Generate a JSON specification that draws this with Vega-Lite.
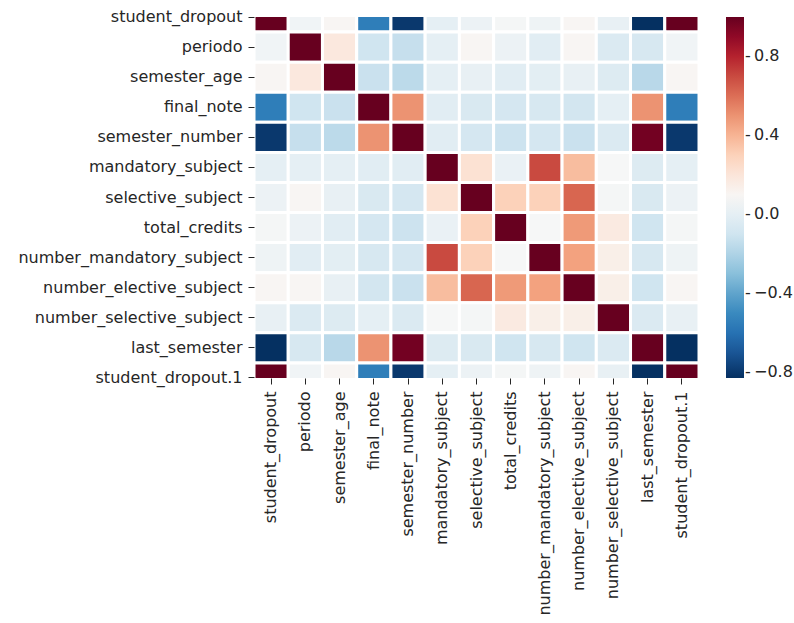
{
  "$schema": "https://vega.github.io/schema/vega-lite/v6.json",
  "width": 445,
  "height": 361,
  "autosize": {"type": "none"},
  "padding": {"left": 254, "top": 17, "right": 95, "bottom": 245},
  "background": "white",
  "config": {"view": {"stroke": null}, "font": "DejaVu Sans"},
  "data": {"values": [
    {"variable": "student_dropout", "student_dropout": 1, "periodo": 0.05, "semester_age": 0.1, "final_note": -0.55, "semester_number": -0.8, "mandatory_subject": 0.0, "selective_subject": 0.03, "total_credits": 0.07, "number_mandatory_subject": 0.04, "number_elective_subject": 0.1, "number_selective_subject": 0.01, "last_semester": -0.83, "student_dropout.1": 1},
    {"variable": "periodo", "student_dropout": 0.05, "periodo": 1, "semester_age": 0.18, "final_note": -0.1, "semester_number": -0.13, "mandatory_subject": 0.0, "selective_subject": 0.1, "total_credits": 0.03, "number_mandatory_subject": -0.02, "number_elective_subject": 0.1, "number_selective_subject": -0.05, "last_semester": -0.07, "student_dropout.1": 0.05},
    {"variable": "semester_age", "student_dropout": 0.1, "periodo": 0.18, "semester_age": 1, "final_note": -0.12, "semester_number": -0.16, "mandatory_subject": 0.0, "selective_subject": 0.01, "total_credits": -0.02, "number_mandatory_subject": -0.01, "number_elective_subject": 0.01, "number_selective_subject": -0.04, "last_semester": -0.17, "student_dropout.1": 0.1},
    {"variable": "final_note", "student_dropout": -0.55, "periodo": -0.1, "semester_age": -0.12, "final_note": 1, "semester_number": 0.5, "mandatory_subject": -0.02, "selective_subject": -0.06, "total_credits": -0.08, "number_mandatory_subject": -0.07, "number_elective_subject": -0.09, "number_selective_subject": 0.0, "last_semester": 0.5, "student_dropout.1": -0.55},
    {"variable": "semester_number", "student_dropout": -0.8, "periodo": -0.13, "semester_age": -0.16, "final_note": 0.5, "semester_number": 1, "mandatory_subject": -0.02, "selective_subject": -0.08, "total_credits": -0.11, "number_mandatory_subject": -0.08, "number_elective_subject": -0.12, "number_selective_subject": -0.05, "last_semester": 0.97, "student_dropout.1": -0.8},
    {"variable": "mandatory_subject", "student_dropout": 0.0, "periodo": 0.0, "semester_age": 0.0, "final_note": -0.02, "semester_number": -0.02, "mandatory_subject": 1, "selective_subject": 0.22, "total_credits": 0.02, "number_mandatory_subject": 0.7, "number_elective_subject": 0.37, "number_selective_subject": 0.08, "last_semester": -0.04, "student_dropout.1": 0.0},
    {"variable": "selective_subject", "student_dropout": 0.03, "periodo": 0.1, "semester_age": 0.01, "final_note": -0.06, "semester_number": -0.08, "mandatory_subject": 0.22, "selective_subject": 1, "total_credits": 0.3, "number_mandatory_subject": 0.3, "number_elective_subject": 0.62, "number_selective_subject": 0.07, "last_semester": -0.06, "student_dropout.1": 0.03},
    {"variable": "total_credits", "student_dropout": 0.07, "periodo": 0.03, "semester_age": -0.02, "final_note": -0.08, "semester_number": -0.11, "mandatory_subject": 0.02, "selective_subject": 0.3, "total_credits": 1, "number_mandatory_subject": 0.08, "number_elective_subject": 0.48, "number_selective_subject": 0.17, "last_semester": -0.1, "student_dropout.1": 0.07},
    {"variable": "number_mandatory_subject", "student_dropout": 0.04, "periodo": -0.02, "semester_age": -0.01, "final_note": -0.07, "semester_number": -0.08, "mandatory_subject": 0.7, "selective_subject": 0.3, "total_credits": 0.08, "number_mandatory_subject": 1, "number_elective_subject": 0.46, "number_selective_subject": 0.14, "last_semester": -0.07, "student_dropout.1": 0.04},
    {"variable": "number_elective_subject", "student_dropout": 0.1, "periodo": 0.1, "semester_age": 0.01, "final_note": -0.09, "semester_number": -0.12, "mandatory_subject": 0.37, "selective_subject": 0.62, "total_credits": 0.48, "number_mandatory_subject": 0.46, "number_elective_subject": 1, "number_selective_subject": 0.14, "last_semester": -0.1, "student_dropout.1": 0.1},
    {"variable": "number_selective_subject", "student_dropout": 0.01, "periodo": -0.05, "semester_age": -0.04, "final_note": 0.0, "semester_number": -0.05, "mandatory_subject": 0.08, "selective_subject": 0.07, "total_credits": 0.17, "number_mandatory_subject": 0.14, "number_elective_subject": 0.14, "number_selective_subject": 1, "last_semester": -0.05, "student_dropout.1": 0.01},
    {"variable": "last_semester", "student_dropout": -0.83, "periodo": -0.07, "semester_age": -0.17, "final_note": 0.5, "semester_number": 0.97, "mandatory_subject": -0.04, "selective_subject": -0.06, "total_credits": -0.1, "number_mandatory_subject": -0.07, "number_elective_subject": -0.1, "number_selective_subject": -0.05, "last_semester": 1, "student_dropout.1": -0.83},
    {"variable": "student_dropout.1", "student_dropout": 1, "periodo": 0.05, "semester_age": 0.1, "final_note": -0.55, "semester_number": -0.8, "mandatory_subject": 0.0, "selective_subject": 0.03, "total_credits": 0.07, "number_mandatory_subject": 0.04, "number_elective_subject": 0.1, "number_selective_subject": 0.01, "last_semester": -0.83, "student_dropout.1": 1}
  ]},
  "transform": [
    {"fold": ["student_dropout", "periodo", "semester_age", "final_note", "semester_number", "mandatory_subject", "selective_subject", "total_credits", "number_mandatory_subject", "number_elective_subject", "number_selective_subject", "last_semester", "student_dropout\\.1"], "as": ["column", "correlation"]}
  ],
  "mark": {"type": "rect", "stroke": "white", "strokeWidth": 3, "clip": true},
  "encoding": {
    "x": {
      "field": "column", "type": "nominal",
      "sort": ["student_dropout", "periodo", "semester_age", "final_note", "semester_number", "mandatory_subject", "selective_subject", "total_credits", "number_mandatory_subject", "number_elective_subject", "number_selective_subject", "last_semester", "student_dropout.1"],
      "scale": {"paddingInner": 0, "paddingOuter": 0},
      "axis": {"title": null, "orient": "bottom", "labelAngle": -90, "labelFontSize": 16, "labelFont": "DejaVu Sans", "labelColor": "#262626", "tickColor": "#262626", "tickSize": 6, "tickWidth": 1, "labelPadding": 7, "labelLimit": 400, "domain": false}
    },
    "y": {
      "field": "variable", "type": "nominal",
      "sort": ["student_dropout", "periodo", "semester_age", "final_note", "semester_number", "mandatory_subject", "selective_subject", "total_credits", "number_mandatory_subject", "number_elective_subject", "number_selective_subject", "last_semester", "student_dropout.1"],
      "scale": {"range": [-15.04, 376.04], "paddingInner": 0, "paddingOuter": 0},
      "axis": {"title": null, "labelFontSize": 16, "labelFont": "DejaVu Sans", "labelColor": "#262626", "tickColor": "#262626", "tickSize": 6, "tickWidth": 1, "labelPadding": 6, "labelLimit": 400, "domain": false}
    },
    "color": {
      "field": "correlation", "type": "quantitative",
      "scale": {"domain": [-0.83, 1], "nice": false, "range": ["#053061", "#2166ac", "#4393c3", "#92c5de", "#d1e5f0", "#f7f7f7", "#fddbc7", "#f4a582", "#d6604d", "#b2182b", "#67001f"]},
      "legend": {"title": null, "orient": "right", "direction": "vertical", "offset": 27, "padding": 0, "gradientLength": 361, "gradientThickness": 18, "gradientStrokeWidth": 0, "values": [0.8, 0.4, 0, -0.4, -0.8], "labelFontSize": 16, "labelFont": "DejaVu Sans", "labelColor": "#262626", "labelOffset": 1, "labelOverlap": false, "labelLimit": 200, "labelExpr": "'-\u2009' + replace(format(datum.value, '.1f'), '-', '\u2212')"}
    }
  }
}
